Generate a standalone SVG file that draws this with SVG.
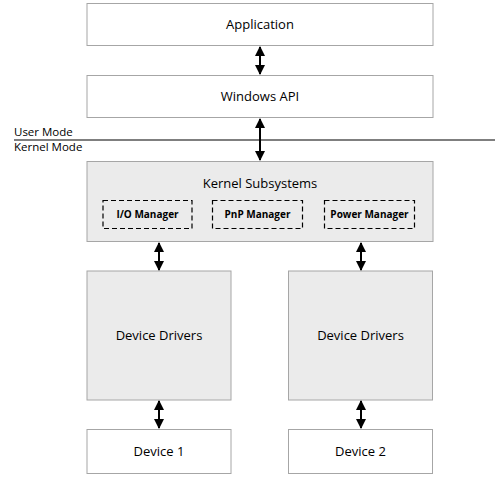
<svg xmlns="http://www.w3.org/2000/svg" width="495" height="480" viewBox="0 0 495 480">
<style>
.box{fill:#fff;stroke:#a6a6a6;stroke-width:1}
.gbox{fill:#ebebeb;stroke:#a6a6a6;stroke-width:1}
.dash{fill:none;stroke:#000;stroke-width:1.2;stroke-dasharray:5,3}
.t{font-family:"Open Sans","Noto Sans","Liberation Sans",sans-serif;font-size:13px;fill:#000;text-anchor:middle}
.s{font-family:"Open Sans","Noto Sans","Liberation Sans",sans-serif;font-size:10px;font-weight:bold;fill:#000;text-anchor:middle}
.m{font-family:"Open Sans","Noto Sans","Liberation Sans",sans-serif;font-size:11.5px;fill:#000}
.c{stroke:#000;stroke-width:2;fill:none;marker-start:url(#ah);marker-end:url(#ah)}
</style>
<defs>
<marker id="ah" viewBox="0 0 10 10" refX="9" refY="5" markerWidth="5" markerHeight="5" orient="auto-start-reverse" markerUnits="strokeWidth">
<path d="M0,0 L10,5 L0,10 z" fill="#000"/>
</marker>
</defs>
<rect width="495" height="480" fill="#fff"/>
<g id="application"><rect class="box" x="87" y="3.5" width="346" height="42"/><text class="t" x="260" y="29">Application</text></g>
<g id="windows-api"><rect class="box" x="87" y="75.5" width="346" height="42"/><text class="t" x="260" y="101">Windows API</text></g>
<g id="mode-line">
<line x1="14" y1="140" x2="495" y2="140" stroke="#000" stroke-width="1.2"/>
<text class="m" x="14" y="135.5">User Mode</text>
<text class="m" x="14" y="151">Kernel Mode</text>
</g>
<g id="kernel-subsystems"><rect class="gbox" x="87" y="161.5" width="346" height="80"/><text class="t" x="260" y="188">Kernel Subsystems</text></g>
<g id="io-manager"><rect class="dash" x="103" y="200.5" width="89" height="28"/><text class="s" x="147.5" y="218">I/O Manager</text></g>
<g id="pnp-manager"><rect class="dash" x="212.5" y="200.5" width="90" height="28"/><text class="s" x="257.5" y="218">PnP Manager</text></g>
<g id="power-manager"><rect class="dash" x="324.5" y="200.5" width="90" height="28"/><text class="s" x="369.5" y="218">Power Manager</text></g>
<g id="device-drivers-1"><rect class="gbox" x="87" y="271" width="144" height="129"/><text class="t" x="159" y="340">Device Drivers</text></g>
<g id="device-drivers-2"><rect class="gbox" x="288.5" y="271" width="144" height="129"/><text class="t" x="360.5" y="340">Device Drivers</text></g>
<g id="device-1"><rect class="box" x="87" y="429.5" width="144" height="44"/><text class="t" x="159" y="456">Device 1</text></g>
<g id="device-2"><rect class="box" x="288.5" y="429.5" width="144" height="44"/><text class="t" x="360.5" y="456">Device 2</text></g>
<g id="connectors">
<line class="c" x1="260" y1="47" x2="260" y2="74"/>
<line class="c" x1="260" y1="119" x2="260" y2="160"/>
<line class="c" x1="159" y1="243" x2="159" y2="270"/>
<line class="c" x1="361" y1="243" x2="361" y2="270"/>
<line class="c" x1="159" y1="401" x2="159" y2="428"/>
<line class="c" x1="361" y1="401" x2="361" y2="428"/>
</g>
</svg>
